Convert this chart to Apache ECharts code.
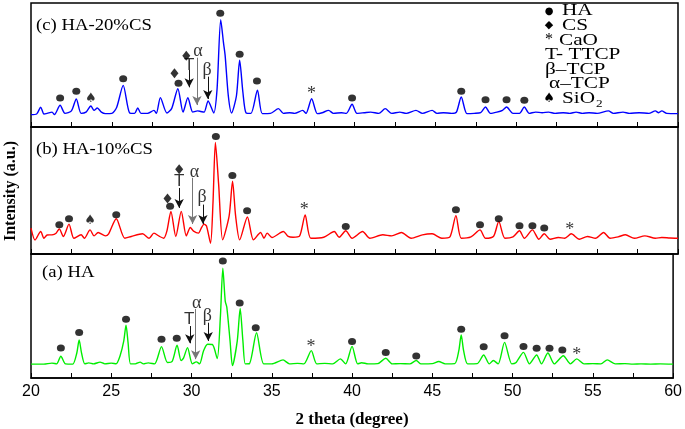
<!DOCTYPE html>
<html><head><meta charset="utf-8">
<script src="https://cdn.jsdelivr.net/npm/echarts@6/dist/echarts.min.js"></script>
<style>html,body{margin:0;padding:0;background:#fff}#c{width:685px;height:429px}</style>
</head><body><div id="c"></div>
<script>
// ---- data (2theta, relative intensity % of panel height) ----
const xTickLabels = [20, 25, 30, 35, 40, 45, 50, 55, 60];
const panelNames = ['(c) HA-20%CS', '(b) HA-10%CS', '(a) HA'];
const lineColors = ['#0000ff', '#ff0000', '#00ee00'];

const hacs20 = [[20.0,10],[20.35,10.5],[20.6,16],[20.8,10.5],[21.0,11],[21.3,12],[21.45,10],[21.8,17.5],[22.1,11],[22.5,13],[22.8,22.6],[23.1,11],[23.4,12],[23.7,16.9],[23.9,13.5],[24.1,15.3],[24.35,12],[24.6,10.8],[25.0,11],[25.3,16],[25.7,33.6],[26.1,11.3],[26.4,11],[26.6,15.3],[26.8,11],[27.2,11],[27.6,13.4],[27.75,11],[28.0,23.7],[28.4,11.3],[28.7,15],[29.08,30.9],[29.4,12],[29.7,23.7],[30.0,12],[30.3,13],[30.5,12.5],[30.7,12],[30.95,21],[31.3,11.3],[31.5,30],[31.73,86.6],[31.9,68],[32.0,58],[32.2,25],[32.4,11.3],[32.7,25],[32.9,53.8],[33.1,28],[33.3,11.3],[33.6,11],[34.0,29.6],[34.3,10.8],[34.8,11],[35.3,14.8],[35.6,11],[36.0,11.5],[36.3,11],[36.8,13.4],[37.0,11],[37.35,22.8],[37.7,10.8],[38.0,11.5],[38.4,13.4],[38.7,11],[39.2,11.5],[39.5,11],[39.85,18.3],[40.15,11],[40.6,11.5],[41.0,12],[41.5,11],[41.9,14.8],[42.3,11],[42.8,12],[43.2,11],[43.8,13.4],[44.2,11],[44.8,13.4],[45.1,11],[45.5,11.5],[46.0,11],[46.3,12],[46.6,24.2],[46.95,10.8],[47.4,11],[47.8,11.5],[48.1,16.1],[48.4,11],[48.8,12],[49.15,13.5],[49.4,16.1],[49.8,11],[50.2,11],[50.5,16.1],[50.8,11],[51.2,12],[51.6,11.5],[52.0,12],[52.4,11],[52.9,11.5],[53.3,11],[53.7,12],[54.1,11],[54.5,11.5],[55.0,11],[55.7,13],[56.0,11],[56.6,12],[57.0,11],[57.6,11.5],[58.2,11],[58.6,13],[58.8,11.5],[59.0,13],[59.3,11],[60.0,10.8]];

const hacs10 = [[20.0,20.4],[20.25,11],[20.6,17.7],[20.8,12.4],[21.0,15],[21.3,15.1],[21.55,16.4],[21.75,19.8],[22.0,13.8],[22.35,23.5],[22.65,12.4],[23.1,15.1],[23.3,12.4],[23.65,19],[23.9,14.3],[24.15,16.9],[24.6,14.3],[24.8,15.9],[25.27,27.8],[25.8,12.4],[26.2,13.8],[26.9,15.9],[27.3,12.4],[27.6,16.4],[27.95,13.8],[28.2,12.4],[28.4,18],[28.65,33.6],[28.95,13.8],[29.29,33.6],[29.6,14.3],[29.85,20.9],[30.05,18],[30.35,16.4],[30.55,21],[30.7,23.5],[30.85,22],[31.1,8.5],[31.25,40],[31.4,87.8],[31.6,55],[31.85,11.1],[32.25,30],[32.46,57.4],[32.65,30],[32.9,11.1],[33.38,29.1],[33.75,11.1],[34.2,16.9],[34.4,12.4],[34.6,16.4],[34.9,13],[35.6,17.7],[35.9,13.8],[36.2,13.2],[36.6,14],[36.95,30.7],[37.3,12.4],[38.1,13.2],[38.75,17.7],[39.05,13.2],[39.46,18.3],[39.85,12.4],[40.5,17.7],[40.95,12.4],[41.75,15.1],[42.3,14.3],[42.9,16.9],[43.5,12.4],[44.2,15.1],[44.8,15.9],[45.4,12.4],[45.9,13.5],[46.27,30.2],[46.6,12.4],[47.2,13.5],[47.76,19],[48.1,12.4],[48.6,14],[48.92,25.7],[49.3,12.4],[49.8,13.5],[50.2,18.3],[50.5,12.4],[51.0,19],[51.4,11.6],[51.73,15.9],[52.1,11.6],[52.6,13],[53.0,12.4],[53.4,15.9],[53.9,11.6],[54.4,13.8],[54.9,12.4],[55.4,16.9],[55.8,12.4],[56.3,13.5],[56.75,15.1],[57.3,12.4],[57.95,14.3],[58.6,12.4],[59.0,13],[59.5,12.6],[60.0,12.4]];

const ha = [[20.0,11.2],[20.8,11.2],[21.3,12],[21.6,11.4],[21.86,17.6],[22.15,11.4],[22.6,11.2],[22.85,20],[23.0,30.6],[23.15,20],[23.35,11.4],[23.6,12.2],[23.9,11.4],[24.3,12.8],[24.6,11.4],[25.0,12],[25.3,11.5],[25.55,18],[25.78,30],[25.92,42.6],[26.05,28],[26.2,11.4],[26.5,11.4],[26.8,12.8],[27.0,11.4],[27.3,12.2],[27.7,11.4],[28.13,25.3],[28.5,12.5],[28.8,13.5],[29.1,26.4],[29.35,14],[29.5,16],[29.75,24.5],[30.05,11.4],[30.3,13],[30.5,11.4],[30.75,22],[31.0,27.2],[31.3,27],[31.6,15.7],[31.8,50],[31.95,88.5],[32.1,62],[32.2,57],[32.4,30],[32.55,10],[32.85,30],[33.03,56],[33.2,30],[33.35,11.4],[33.6,11.5],[34.05,36.5],[34.5,11.4],[35.0,11.4],[35.7,14.6],[36.1,11.4],[36.6,11.8],[37.0,11.4],[37.46,22.1],[37.8,11.4],[38.3,11.8],[38.8,11.4],[39.27,15.4],[39.6,11.4],[40.0,25.5],[40.35,11.4],[40.6,12.3],[41.0,11.4],[41.6,11.6],[42.1,15.9],[42.5,11.4],[43.0,11.6],[43.6,11.4],[44.0,14.1],[44.3,11.4],[45.0,11.6],[45.4,13.3],[45.8,11.4],[46.4,11.6],[46.65,22],[46.8,34.8],[46.95,22],[47.2,11.4],[47.8,11.6],[48.2,18.6],[48.55,11.4],[48.8,14.1],[49.1,11.4],[49.5,28.7],[49.95,11.4],[50.2,12.2],[50.68,20.7],[51.05,11.4],[51.5,18.6],[51.8,11.4],[52.2,20.2],[52.6,11.4],[53.16,18],[53.6,11.4],[54.0,15.4],[54.45,11.4],[55.0,11.6],[55.5,11.4],[55.9,14.6],[56.4,11.4],[57.0,11.6],[57.5,11.2],[58.0,11.4],[58.6,11.2],[59.2,11.4],[60.0,11.2]];

// phase markers (HA dots)
const dotsC = [[21.8,23.4],[22.8,28.8],[25.7,39],[29.12,35.2],[31.7,91.7],[32.9,58.6],[33.97,37],[39.85,23.4],[46.6,28.8],[48.1,22],[49.4,22],[50.5,21.5]];
const dotsB = [[21.75,23],[22.35,27.8],[25.27,31],[28.6,37.6],[31.43,92.6],[32.45,61.9],[33.36,34.1],[39.46,21.7],[46.27,34.9],[47.76,23],[48.92,27.8],[50.2,22.2],[51.0,22.2],[51.73,20.4]];
const dotsA = [[21.86,24.2],[23.0,36.7],[25.92,47.3],[28.13,31.2],[29.08,32],[31.95,94.4],[33.0,60.5],[34.0,40.5],[40.0,29.5],[42.1,20.5],[44.0,17.8],[46.8,39.4],[48.2,25.3],[49.5,34],[50.68,25.5],[51.5,23.9],[52.3,23.9],[53.1,22.6]];
// CS diamonds
const diamC = [[28.87,43.3],[29.6,57.5]];
const diamB = [[28.44,43.7],[29.16,66.7]];
const diamA = [];
// text markers [label, 2theta, y]
const textC = [['♠',23.7,22.6],['*',37.34,26],['T',29.78,50],['α',30.32,61],['β',30.88,45.5]];
const textB = [['♠',23.65,26.2],['T',29.16,57.4],['α',30.1,64],['β',30.57,44.5],['*',36.9,34.5],['*',53.3,18.8]];
const textA = [['T',29.85,47.2],['α',30.32,60],['β',30.98,50],['*',37.44,25],['*',54.0,18.4]];
// arrows [2theta, yStart, yEnd, colour]
const arrowsC = [[29.78,46,32,'#111'],[30.26,55.9,17.7,'#777'],[30.93,40.6,22.6,'#111']];
const arrowsB = [[29.16,52,36.3,'#111'],[29.99,60,23.6,'#777'],[30.63,38.9,23.6,'#111']];
const arrowsA = [[29.89,41.9,28,'#111'],[30.26,55.7,15.2,'#777'],[31.04,44.6,29.9,'#111']];

const legendItems = [['●','HA'],['◆','CS'],['*','CaO'],['','T- TTCP'],['','β–TCP'],['','α–TCP'],['♠','SiO']];

// ---- layout ----
const gridsPos = [{top:3,height:124},{top:127,height:127},{top:254,height:125}];
const series = [[hacs20,dotsC,diamC,textC,arrowsC],[hacs10,dotsB,diamB,textB,arrowsB],[ha,dotsA,diamA,textA,arrowsA]];

const chart = echarts.init(document.getElementById('c'), null, {renderer:'canvas'});
const grids = [], xAxes = [], yAxes = [], ser = [];
gridsPos.forEach((g,i)=>{
  grids.push({left:31,right:7,top:g.top,height:g.height,show:true,borderColor:'#000',borderWidth:1.5,backgroundColor:'transparent'});
  const last = i===2;
  xAxes.push({type:'value',gridIndex:i,min:20,max:60,interval:2.5,
    axisLine:{show:true,onZero:false,lineStyle:{color:'#000',width:1.5}},
    axisTick:{show:true,inside:true,length:5,lineStyle:{color:'#000',width:1}},
    splitLine:{show:false},
    axisLabel:{show:last,margin:6,color:'#000',fontFamily:'Liberation Sans',fontSize:16,
      formatter:v=> xTickLabels.indexOf(v)>=0 ? String(v) : ''},
    name: last ? '2 theta (degree)' : '', nameLocation:'middle', nameGap:33,
    nameTextStyle:{fontFamily:'Liberation Serif',fontWeight:'bold',fontSize:17,color:'#000'}});
  yAxes.push({type:'value',gridIndex:i,min:0,max:100,show:false});
  const [d,dots,diam,texts,arrows] = series[i];
  ser.push({type:'line',xAxisIndex:i,yAxisIndex:i,data:d,showSymbol:false,smooth:0.25,
    lineStyle:{color:lineColors[i],width:1.4},z:3,animation:false,silent:true});
  ser.push({type:'scatter',xAxisIndex:i,yAxisIndex:i,data:dots,symbol:'circle',symbolSize:[8,7],
    itemStyle:{color:'#000'},z:5,animation:false,silent:true});
  if (diam.length) ser.push({type:'scatter',xAxisIndex:i,yAxisIndex:i,data:diam,symbol:'diamond',symbolSize:[8,10],
    itemStyle:{color:'#000'},z:5,animation:false,silent:true});
  ser.push({type:'scatter',xAxisIndex:i,yAxisIndex:i,
    data:texts.map(t=>({name:t[0],value:[t[1],t[2]],
      label: t[0]==='T' ? {fontFamily:'Liberation Sans',fontSize:17} : (t[0]==='♠' ? {fontFamily:'DejaVu Sans',fontSize:13} : {})})),
    symbolSize:1,itemStyle:{color:'rgba(0,0,0,0)'},
    label:{show:true,position:'inside',formatter:'{b}',color:'#000',fontFamily:'Liberation Serif',fontSize:18},
    z:6,animation:false,silent:true,
    markLine:{silent:true,animation:false,symbol:['none','arrow'],symbolSize:[7,9],label:{show:false},
      data: arrows.map(a=>[{coord:[a[0],a[1]],lineStyle:{color:a[3],width:1,type:'solid'}},{coord:[a[0],a[2]]}]),
      lineStyle:{type:'solid',width:1}}});
});

const graphic = [];
// y-axis title
graphic.push({type:'text',x:11,y:191,rotation:Math.PI/2,style:{text:'Intensity (a.u.)',font:'bold 16px "Liberation Serif"',fill:'#000',textAlign:'center',textVerticalAlign:'middle',align:'center',verticalAlign:'middle'}});
// panel labels
const labelPos = [[36,26],[36,150],[42,273]];
panelNames.forEach((n,i)=>graphic.push({type:'text',x:labelPos[i][0],y:labelPos[i][1],scaleX:1.1,
  style:{text:n,font:'17px "Liberation Serif"',fill:'#000',textVerticalAlign:'middle',verticalAlign:'middle'}}));
// legend
const symFont = {'●':'10px "DejaVu Sans"','◆':'11px "DejaVu Sans"','*':'16px "Liberation Serif"','♠':'13px "DejaVu Sans"'};
legendItems.forEach((it,k)=>{
  const y = 11 + k*14.6;
  if (it[0]) graphic.push({type:'text',x:549,y:y,style:{text:it[0],font:symFont[it[0]],fill:'#000',textAlign:'center',align:'center',textVerticalAlign:'middle',verticalAlign:'middle'}});
  const tx = it[0] ? (it[0]==='*' ? 559 : 562) : (k===5 ? 549 : 545);
  graphic.push({type:'text',x:tx,y:y,scaleX:1.25,style:{text:it[1],font:'17px "Liberation Serif"',fill:'#000',textVerticalAlign:'middle',verticalAlign:'middle'}});
  if (it[1]==='SiO') graphic.push({type:'text',x:tx+34,y:y+6,scaleX:1.2,style:{text:'2',font:'11px "Liberation Serif"',fill:'#000',textVerticalAlign:'middle',verticalAlign:'middle'}});
});

chart.setOption({animation:false,backgroundColor:'#fff',grid:grids,xAxis:xAxes,yAxis:yAxes,series:ser,graphic:graphic});
</script></body></html>
